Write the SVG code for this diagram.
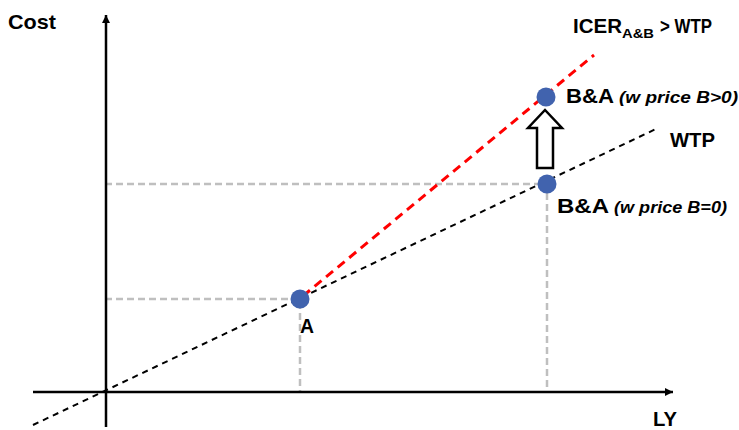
<svg xmlns="http://www.w3.org/2000/svg" width="739" height="430" viewBox="0 0 739 430">
<style>
text{font-family:"Liberation Sans",Arial,sans-serif;fill:#000;font-weight:bold}
.lbl{font-size:21px}
.it{font-style:italic;font-size:16px}
.grid{stroke:#bfbfbf;stroke-width:2.5;stroke-dasharray:7 4;fill:none}
.axis{stroke:#000;stroke-width:2.5;fill:none}
.dot{fill:#4163AE}
</style>
<defs>
<marker id="ah" viewBox="0 0 10 10" refX="10" refY="5" markerWidth="3.2" markerHeight="3.2" orient="auto" markerUnits="strokeWidth">
<path d="M0,0 L10,5 L0,10 Z" fill="#000"/>
</marker>
</defs>
<g id="connectors">
<path class="grid" d="M105,299 H300 V392"/>
<path class="grid" d="M105,184 H547 V392"/>
<line class="axis" x1="106" y1="427" x2="106" y2="15" marker-end="url(#ah)"/>
<line class="axis" x1="33" y1="392" x2="673" y2="392" marker-end="url(#ah)"/>
<line x1="33" y1="425" x2="658" y2="128" stroke="#000" stroke-width="2" stroke-dasharray="6 5"/>
<line x1="303" y1="296" x2="594" y2="55" stroke="#ff0000" stroke-width="3" stroke-dasharray="9 6"/>
<path d="M537,168 V128 H528 L545,110 L562,128 H553 V168 Z" fill="#fff" stroke="#000" stroke-width="2.5"/>
</g>
<g id="axis-labels">
<text class="lbl" x="8" y="29" textLength="48" lengthAdjust="spacingAndGlyphs">Cost</text>
<text class="lbl" x="653" y="426" textLength="24" lengthAdjust="spacingAndGlyphs">LY</text>
</g>
<g id="node-A">
<circle class="dot" cx="300" cy="299" r="9.5"/>
<text class="lbl" x="300" y="333" textLength="14" lengthAdjust="spacingAndGlyphs">A</text>
</g>
<g id="node-BA0">
<circle class="dot" cx="547" cy="184" r="9.5"/>
<text x="557" y="213"><tspan class="lbl" textLength="52" lengthAdjust="spacingAndGlyphs">B&amp;A</tspan><tspan class="it" dx="5" textLength="113" lengthAdjust="spacingAndGlyphs">(w price B=0)</tspan></text>
</g>
<g id="node-BA1">
<circle class="dot" cx="546" cy="97" r="9.5"/>
<text x="566" y="103"><tspan class="lbl" textLength="48" lengthAdjust="spacingAndGlyphs">B&amp;A</tspan><tspan class="it" dx="5" textLength="119" lengthAdjust="spacingAndGlyphs">(w price B&gt;0)</tspan></text>
</g>
<g id="line-labels">
<text x="573" y="33"><tspan class="lbl" textLength="49" lengthAdjust="spacingAndGlyphs">ICER</tspan><tspan font-size="13" dy="5" textLength="32" lengthAdjust="spacingAndGlyphs">A&amp;B</tspan><tspan class="lbl" dy="-5" dx="6" textLength="52" lengthAdjust="spacingAndGlyphs">&gt; WTP</tspan></text>
<text class="lbl" x="670" y="147" textLength="45" lengthAdjust="spacingAndGlyphs">WTP</text>
</g>
</svg>
